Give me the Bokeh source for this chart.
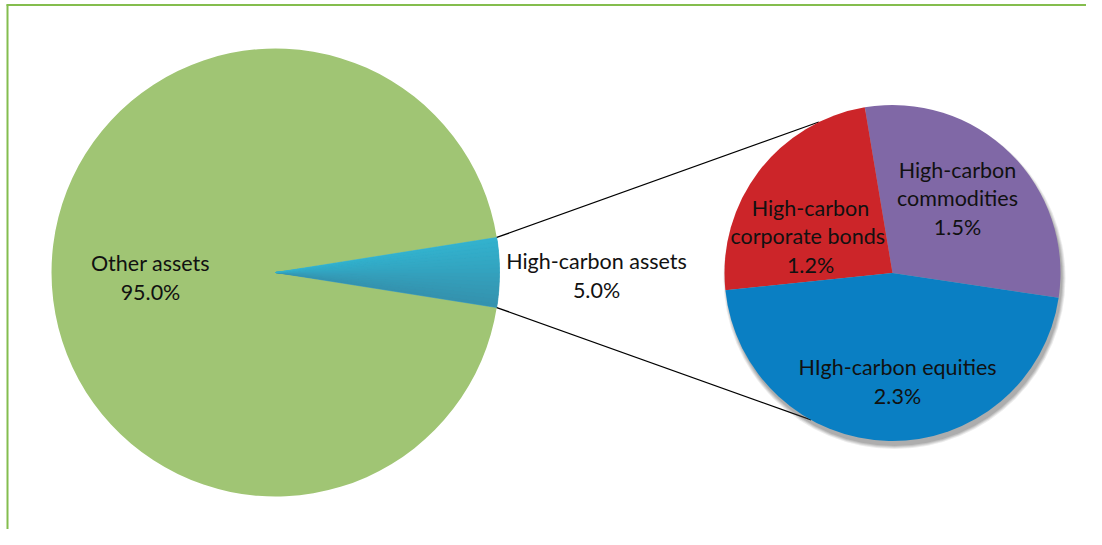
import math
from bokeh.plotting import figure
from bokeh.models import Range1d
from bokeh.core.properties import value
from bokeh.embed import file_html
from bokeh.resources import INLINE

# ---- data ----
main_labels = ["Other assets", "High-carbon assets"]
main_values = [95.0, 5.0]
main_colors = ["#A0C574", "#33A9C6"]

sub_labels = ["High-carbon commodities", "High-carbon corporate  bonds", "HIgh-carbon equities"]
sub_values = [1.5, 1.2, 2.3]
sub_colors = ["#8068A6", "#CC2529", "#0A7FC3"]

# ---- geometry (screen px; y converted to data by PH - y) ----
PW, PH = 1086, 529
def Y(sy):
    return PH - sy

MCX, MCY, MR = 275, Y(272), 224
SCX, SCY, SR = 892, Y(272.5), 168
SUB_START = -8.5          # degrees, first sub slice start
CONN_TOP, CONN_BOT = 116, 241   # connector angles on the secondary pie
FONT = value("Lato")
FS = "21.5px"
LH = 1.1

p = figure(width=PW, height=PH, output_backend="svg", toolbar_location=None,
           x_range=Range1d(0, PW), y_range=Range1d(0, PH),
           min_border=0)
p.axis.visible = False
p.grid.visible = False
p.outline_line_color = None
p.background_fill_color = "white"

# border (top & left)
p.line([6, PW], [Y(4.5), Y(4.5)], line_color="#84BD4E", line_width=2)
p.line([7, 7], [Y(4), Y(PH)], line_color="#84BD4E", line_width=2)

# ---- main pie ----
hc_frac = main_values[1] / sum(main_values)
half = hc_frac * 360 / 2
hs, he = -half, half
p.wedge(x=MCX, y=MCY, radius=MR, start_angle=math.radians(he), end_angle=math.radians(360 + hs),
        fill_color=main_colors[0], line_color=None)
# high-carbon wedge: base + gradient via sub-wedges
p.wedge(x=MCX, y=MCY, radius=MR, start_angle=math.radians(hs), end_angle=math.radians(he),
        fill_color=main_colors[1], line_color=None)
n = 16
c_top = (0x33, 0xB3, 0xCF)
c_bot = (0x35, 0x91, 0xAD)
for i in range(n):
    a0 = hs + (he - hs) * i / n
    a1 = hs + (he - hs) * (i + 1) / n
    t = (i + 0.5) / n
    col = "#%02x%02x%02x" % tuple(int(c_bot[k] + (c_top[k] - c_bot[k]) * t) for k in range(3))
    p.wedge(x=MCX, y=MCY, radius=MR, start_angle=math.radians(a0), end_angle=math.radians(a1),
            fill_color=col, line_color=col, line_width=0.6)

# ---- connectors ----
for a_main, a_sub in [(he, CONN_TOP), (hs, CONN_BOT)]:
    x0 = MCX + MR * math.cos(math.radians(a_main))
    y0 = MCY + MR * math.sin(math.radians(a_main))
    x1 = SCX + SR * math.cos(math.radians(a_sub))
    y1 = SCY + SR * math.sin(math.radians(a_sub))
    p.line([x0, x1], [y0, y1], line_color="black", line_width=1.3)

# ---- shadow of secondary pie ----
for k, a in [(4, 0.10), (3, 0.12), (2, 0.14), (1, 0.16)]:
    p.circle(x=SCX + 2, y=SCY - 5, radius=SR + k - 1, fill_color="#444444", fill_alpha=a, line_color=None)

# ---- secondary pie ----
total = sum(sub_values)
a = SUB_START
for v, c in zip(sub_values, sub_colors):
    span = v / total * 360
    p.wedge(x=SCX, y=SCY, radius=SR, start_angle=math.radians(a), end_angle=math.radians(a + span),
            fill_color=c, line_color=None)
    a += span

# ---- labels ----
tc = "#111111"
def label(x, sy, t):
    p.text(x=[x], y=[Y(sy)], text=[t], text_align="center", text_baseline="middle",
           text_font=FONT, text_font_size=FS, text_color=tc, text_line_height=LH)

label(150, 277, main_labels[0] + "\n" + "%.1f%%" % main_values[0])
label(596, 275, main_labels[1] + "\n" + "%.1f%%" % main_values[1])

sub_text = [
    "High-carbon\ncommodities\n%.1f%%" % sub_values[0],
    "High-carbon\ncorporate  bonds\n%.1f%%" % sub_values[1],
    "HIgh-carbon equities\n%.1f%%" % sub_values[2],
]
sub_pos = [(957, 198), (810, 236), (897, 381)]
for t, (x, sy) in zip(sub_text, sub_pos):
    label(x, sy, t)

open("out.html", "w").write(file_html(p, INLINE))
